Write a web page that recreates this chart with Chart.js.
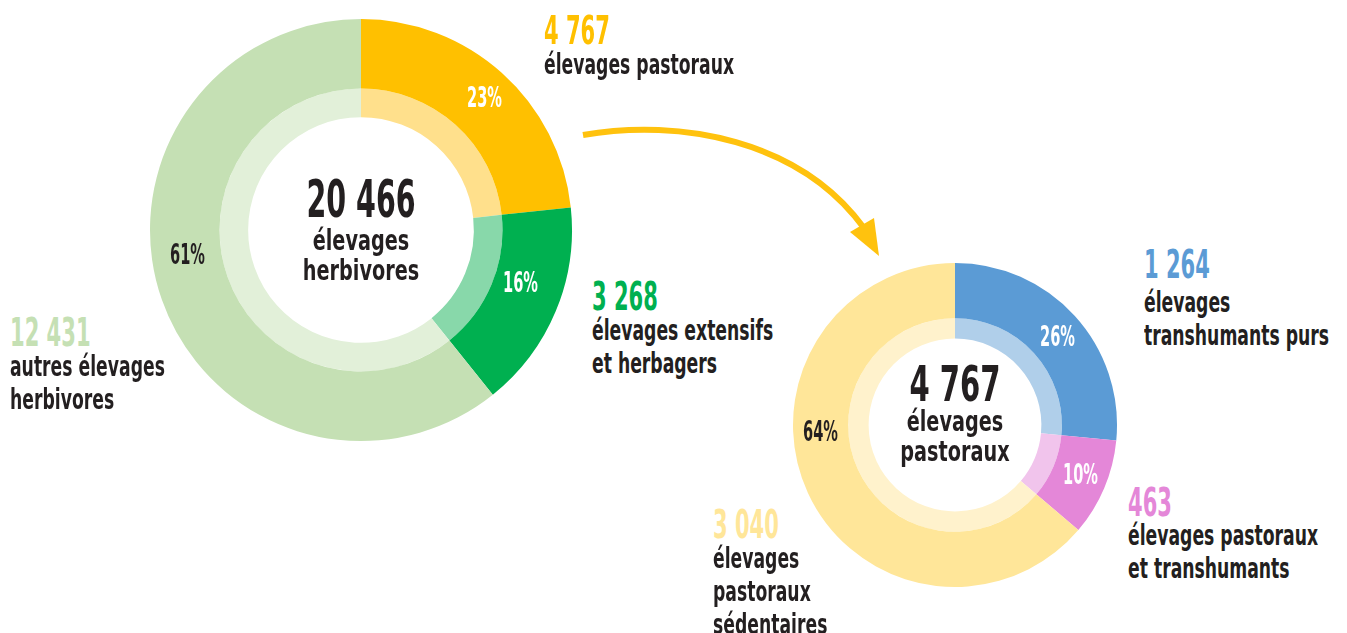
<!DOCTYPE html>
<html>
<head>
<meta charset="utf-8">
<script src="https://cdn.jsdelivr.net/npm/chart.js@4.4.0/dist/chart.umd.min.js"></script>
<style>
  body { margin: 0; background: #fff; width: 1347px; height: 633px; overflow: hidden; position: relative;
         font-family: "DejaVu Sans Condensed", "DejaVu Sans", sans-serif; font-weight: bold; color: #231f20; }
  canvas { position: absolute; }
  .t { position: absolute; white-space: nowrap; line-height: 1; transform-origin: 0 0; }
  .big { font-size: 39px; transform: scaleX(0.6); }
  .lab { font-size: 29px; line-height: 33px; transform: scaleX(0.66); }
  .pct { font-size: 29px; transform: scaleX(0.56); }
  .ctr { transform-origin: 50% 0; text-align: center; }
  .num1 { font-size: 52px; transform: translateX(-50%) scaleX(0.61); }
  .num2 { font-size: 49px; transform: translateX(-50%) scaleX(0.66); }
  .clab { font-size: 28px; line-height: 30px; transform: translateX(-50%) scaleX(0.765); }
</style>
</head>
<body>
<svg width="1347" height="633" style="position:absolute;left:0;top:0">
  <path d="M583,135 C680,118 800,140 864,228" fill="none" stroke="#ffc20e" stroke-width="6"/>
  <polygon points="850,232 874,218 879,256" fill="#ffc20e"/>
</svg>
<canvas id="graf1" width="430" height="430" style="left:146px;top:15px"></canvas>
<canvas id="graf2" width="330" height="330" style="left:790px;top:260px"></canvas>

<div class="t big" id="n1a" style="left:544px;top:11px;color:#ffc000"></div>
<div class="t lab" style="left:544px;top:48px">élevages pastoraux</div>
<div class="t big" id="n1b" style="left:592px;top:277px;color:#00b050"></div>
<div class="t lab" style="left:592px;top:314px">élevages extensifs<br>et herbagers</div>
<div class="t big" id="n1c" style="left:10px;top:313px;color:#c5e0b4"></div>
<div class="t lab" style="left:10px;top:350px">autres élevages<br>herbivores</div>

<div class="t ctr num1" id="tot1" style="left:361px;top:173px"></div>
<div class="t ctr clab" style="left:361px;top:226px">élevages<br>herbivores</div>

<div class="t pct" id="p1a" style="left:467px;top:83px;color:#fff"></div>
<div class="t pct" id="p1b" style="left:503px;top:268px;color:#fff"></div>
<div class="t pct" id="p1c" style="left:170px;top:240px"></div>

<div class="t big" id="n2a" style="left:1144px;top:245px;color:#5b9bd5"></div>
<div class="t lab" style="left:1144px;top:286px">élevages<br>transhumants purs</div>
<div class="t big" id="n2b" style="left:1128px;top:483px;color:#e487d8"></div>
<div class="t lab" style="left:1128px;top:519px">élevages pastoraux<br>et transhumants</div>
<div class="t big" id="n2c" style="left:713px;top:505px;color:#ffe699"></div>
<div class="t lab" style="left:713px;top:542px">élevages<br>pastoraux<br>sédentaires</div>

<div class="t ctr num2" id="tot2" style="left:955px;top:360px"></div>
<div class="t ctr clab" style="left:955px;top:407px">élevages<br>pastoraux</div>

<div class="t pct" id="p2a" style="left:1040px;top:322px;color:#fff"></div>
<div class="t pct" id="p2b" style="left:1063px;top:460px;color:#fff"></div>
<div class="t pct" id="p2c" style="left:803px;top:417px"></div>

<script>
// élevages herbivores
const categories1 = ["élevages pastoraux", "élevages extensifs et herbagers", "autres élevages herbivores"]
const valeurs1 = [4767, 3268, 12431]
const cores1 = ["#ffc000", "#00b050", "#c5e0b4"]
const coresClaras1 = ["#ffe08c", "#88d8aa", "#e2f0d9"]

// élevages pastoraux
const categories2 = ["élevages transhumants purs", "élevages pastoraux et transhumants", "élevages pastoraux sédentaires"]
const valeurs2 = [1264, 463, 3040]
const cores2 = ["#5b9bd5", "#e487d8", "#ffe699"]
const coresClaras2 = ["#b0cfea", "#f1c4ec", "#fff2cc"]

const fmt = n => String(n).replace(/\B(?=(\d{3})+(?!\d))/g, " ")
const soma = a => a.reduce((s, v) => s + v, 0)

// pourcentages arrondis qui font 100 (plus grands restes)
function pourcents(vals) {
    const t = soma(vals)
    const brut = vals.map(v => v / t * 100)
    const res = brut.map(Math.floor)
    let manque = 100 - soma(res)
    brut.map((b, i) => [b - Math.floor(b), i]).sort((a, b) => b[0] - a[0])
        .forEach(([r, i]) => { if (manque > 0) { res[i]++; manque-- } })
    return res
}

function donut(el, labels, data, cores, claras, raio, corte, pesoFora, pesoDentro) {
    return new Chart(document.getElementById(el), {
        type: 'doughnut',
        data: {
            labels: labels,
            datasets: [
                { data: data, backgroundColor: cores, borderWidth: 0, weight: pesoFora },
                { data: data, backgroundColor: claras, borderWidth: 0, weight: pesoDentro }
            ]
        },
        options: {
            responsive: false,
            animation: false,
            radius: raio,
            cutout: corte,
            layout: { padding: 0 },
            plugins: { legend: { display: false }, tooltip: { enabled: false } },
            events: []
        }
    })
}

donut("graf1", categories1, valeurs1, cores1, coresClaras1, 211, 115, 68, 28)
donut("graf2", categories2, valeurs2, cores2, coresClaras2, 162, 88, 54, 20)

const pc1 = pourcents(valeurs1), pc2 = pourcents(valeurs2)
document.getElementById("tot1").textContent = fmt(soma(valeurs1))
document.getElementById("tot2").textContent = fmt(soma(valeurs2))
;["a", "b", "c"].forEach((k, i) => {
    document.getElementById("n1" + k).textContent = fmt(valeurs1[i])
    document.getElementById("n2" + k).textContent = fmt(valeurs2[i])
    document.getElementById("p1" + k).textContent = pc1[i] + "%"
    document.getElementById("p2" + k).textContent = pc2[i] + "%"
})
</script>
</body>
</html>
